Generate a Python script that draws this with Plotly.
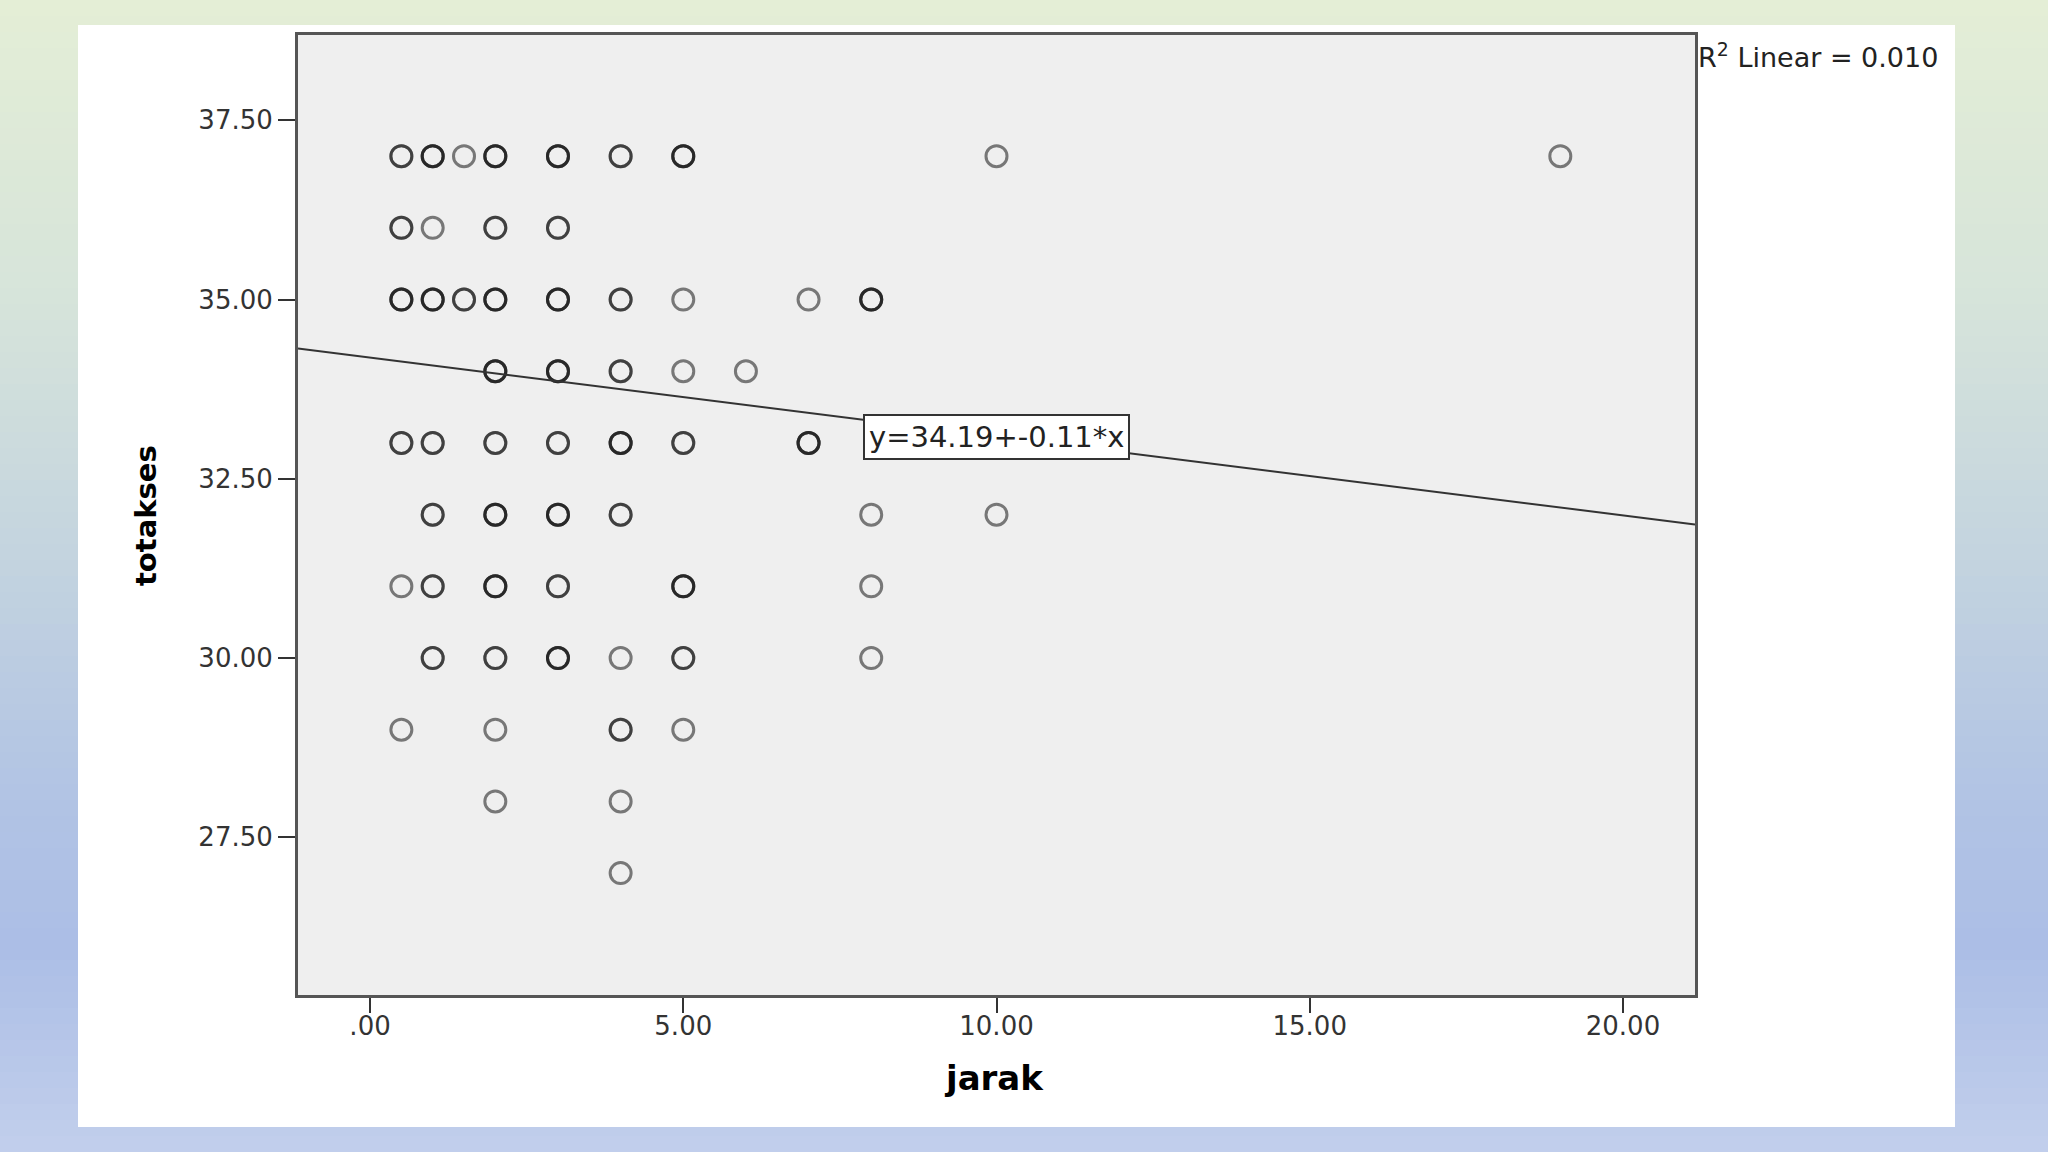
import numpy as np
import plotly.graph_objects as go

jarak = [0.5, 1, 1.5, 2, 3, 4, 5, 10, 19,
         0.5, 1, 2, 3,
         0.5, 1, 1.5, 2, 3, 4, 5, 7, 8,
         2, 3, 4, 5, 6,
         0.5, 1, 2, 3, 4, 5, 7,
         1, 2, 3, 4, 8, 10,
         0.5, 1, 2, 3, 5, 8,
         1, 2, 3, 4, 5, 8,
         0.5, 2, 4, 5,
         2, 4,
         4]
totakses = [37, 37, 37, 37, 37, 37, 37, 37, 37,
            36, 36, 36, 36,
            35, 35, 35, 35, 35, 35, 35, 35, 35,
            34, 34, 34, 34, 34,
            33, 33, 33, 33, 33, 33, 33,
            32, 32, 32, 32, 32, 32,
            31, 31, 31, 31, 31, 31,
            30, 30, 30, 30, 30, 30,
            29, 29, 29, 29,
            28, 28,
            27]
n_obs = [2, 3, 1, 3, 3, 2, 3, 1, 1,
         2, 1, 2, 2,
         3, 3, 2, 3, 3, 2, 1, 1, 3,
         3, 3, 2, 1, 1,
         2, 2, 2, 2, 3, 2, 3,
         2, 3, 3, 2, 1, 1,
         1, 2, 3, 2, 3, 1,
         2, 2, 3, 1, 2, 1,
         1, 1, 2, 1,
         1, 1,
         1]

# fit line as printed on the chart
intercept = 34.19
slope = -0.11
r2_linear = 0.010

x_ticks = [0, 5, 10, 15, 20]
x_ticktext = [".00", "5.00", "10.00", "15.00", "20.00"]
y_ticks = [27.5, 30, 32.5, 35, 37.5]
y_ticktext = ["27.50", "30.00", "32.50", "35.00", "37.50"]

x_range = [-1.15, 21.15]
y_range = [25.3, 38.69]

# Canvas geometry (pixels)
W, H = 2048, 1152
L, R, T, B = 298, 353, 35, 157
PW, PH = W - L - R, H - T - B


def px_x(px):
    return (px - L) / PW


def px_y(py):
    return (H - B - py) / PH


# expand overlapping observations
xs = np.repeat(jarak, n_obs)
ys = np.repeat(totakses, n_obs)

fig = go.Figure()

fig.add_trace(go.Scatter(
    x=xs, y=ys, mode="markers",
    marker=dict(symbol="circle-open", size=21, color="rgba(20,20,20,0.55)",
                line=dict(width=3)),
    showlegend=False, hoverinfo="x+y",
))

line_x = np.array(x_range)
fig.add_trace(go.Scatter(
    x=line_x, y=intercept + slope * line_x, mode="lines",
    line=dict(color="#333333", width=2),
    showlegend=False, hoverinfo="skip",
))

# background gradient (green top -> blue bottom)
stops = [(0, (228, 238, 214)), (300, (214, 228, 218)), (550, (196, 212, 223)),
         (800, (177, 195, 228)), (950, (172, 190, 230)), (1152, (194, 207, 236))]
shapes = []
band = 16
for y0 in range(0, H, band):
    yc = y0 + band / 2
    for (a, ca), (b, cb) in zip(stops[:-1], stops[1:]):
        if a <= yc <= b:
            t = (yc - a) / (b - a)
            c = [round(ca[i] + t * (cb[i] - ca[i])) for i in range(3)]
            break
    shapes.append(dict(type="rect", xref="paper", yref="paper", layer="below",
                       x0=px_x(0), x1=px_x(W), y0=px_y(y0 + band + 1), y1=px_y(y0),
                       line=dict(width=0), fillcolor=f"rgb({c[0]},{c[1]},{c[2]})"))

# white panel and plot area
shapes.append(dict(type="rect", xref="paper", yref="paper", layer="below",
                   x0=px_x(78), x1=px_x(1955), y0=px_y(1127), y1=px_y(25),
                   line=dict(width=0), fillcolor="white"))
shapes.append(dict(type="rect", xref="paper", yref="paper", layer="below",
                   x0=0, x1=1, y0=0, y1=1,
                   line=dict(width=0), fillcolor="#efefef"))

fig.update_layout(
    width=W, height=H,
    margin=dict(l=L, r=R, t=T, b=B),
    paper_bgcolor="rgb(200,215,224)",
    plot_bgcolor="#efefef",
    shapes=shapes,
    font=dict(family="DejaVu Sans, Verdana, sans-serif", color="#333333"),
    xaxis=dict(range=x_range, tickvals=x_ticks, ticktext=x_ticktext,
               showgrid=False, zeroline=False, showline=True, mirror=True,
               linecolor="#555555", linewidth=3,
               ticks="outside", ticklen=15, tickwidth=2, tickcolor="#333333",
               ticklabelstandoff=-9,
               tickfont=dict(size=26, color="#333333")),
    yaxis=dict(range=y_range, tickvals=y_ticks, ticktext=y_ticktext,
               showgrid=False, zeroline=False, showline=True, mirror=True,
               linecolor="#555555", linewidth=3,
               ticks="outside", ticklen=17, tickwidth=2, tickcolor="#333333",
               tickfont=dict(size=26, color="#333333")),
    annotations=[
        dict(text="totakses", xref="paper", yref="paper",
             x=px_x(146), y=px_y(516), textangle=-90, showarrow=False,
             xanchor="center", yanchor="middle",
             font=dict(family="DejaVu Sans", size=29, color="black", weight="bold")),
        dict(text="jarak", xref="paper", yref="paper",
             x=px_x(994), y=px_y(1078), showarrow=False,
             xanchor="center", yanchor="middle",
             font=dict(family="DejaVu Sans", size=34, color="black", weight="bold")),
        dict(text=f"R<sup>2</sup> Linear = {r2_linear:.3f}", xref="paper", yref="paper",
             x=px_x(1696), y=px_y(56), showarrow=False,
             xanchor="left", yanchor="middle",
             font=dict(size=27, color="#222222")),
        dict(text=f"y={intercept:.2f}+{slope:.2f}*x", x=10, y=33.08,
             showarrow=False, xanchor="center", yanchor="middle",
             bgcolor="white", bordercolor="#333333", borderwidth=2, borderpad=4,
             font=dict(size=29, color="#222222")),
    ],
)

fig.write_html("out.html", config={"displayModeBar": False},
               post_script="document.body.style.margin='0';")
